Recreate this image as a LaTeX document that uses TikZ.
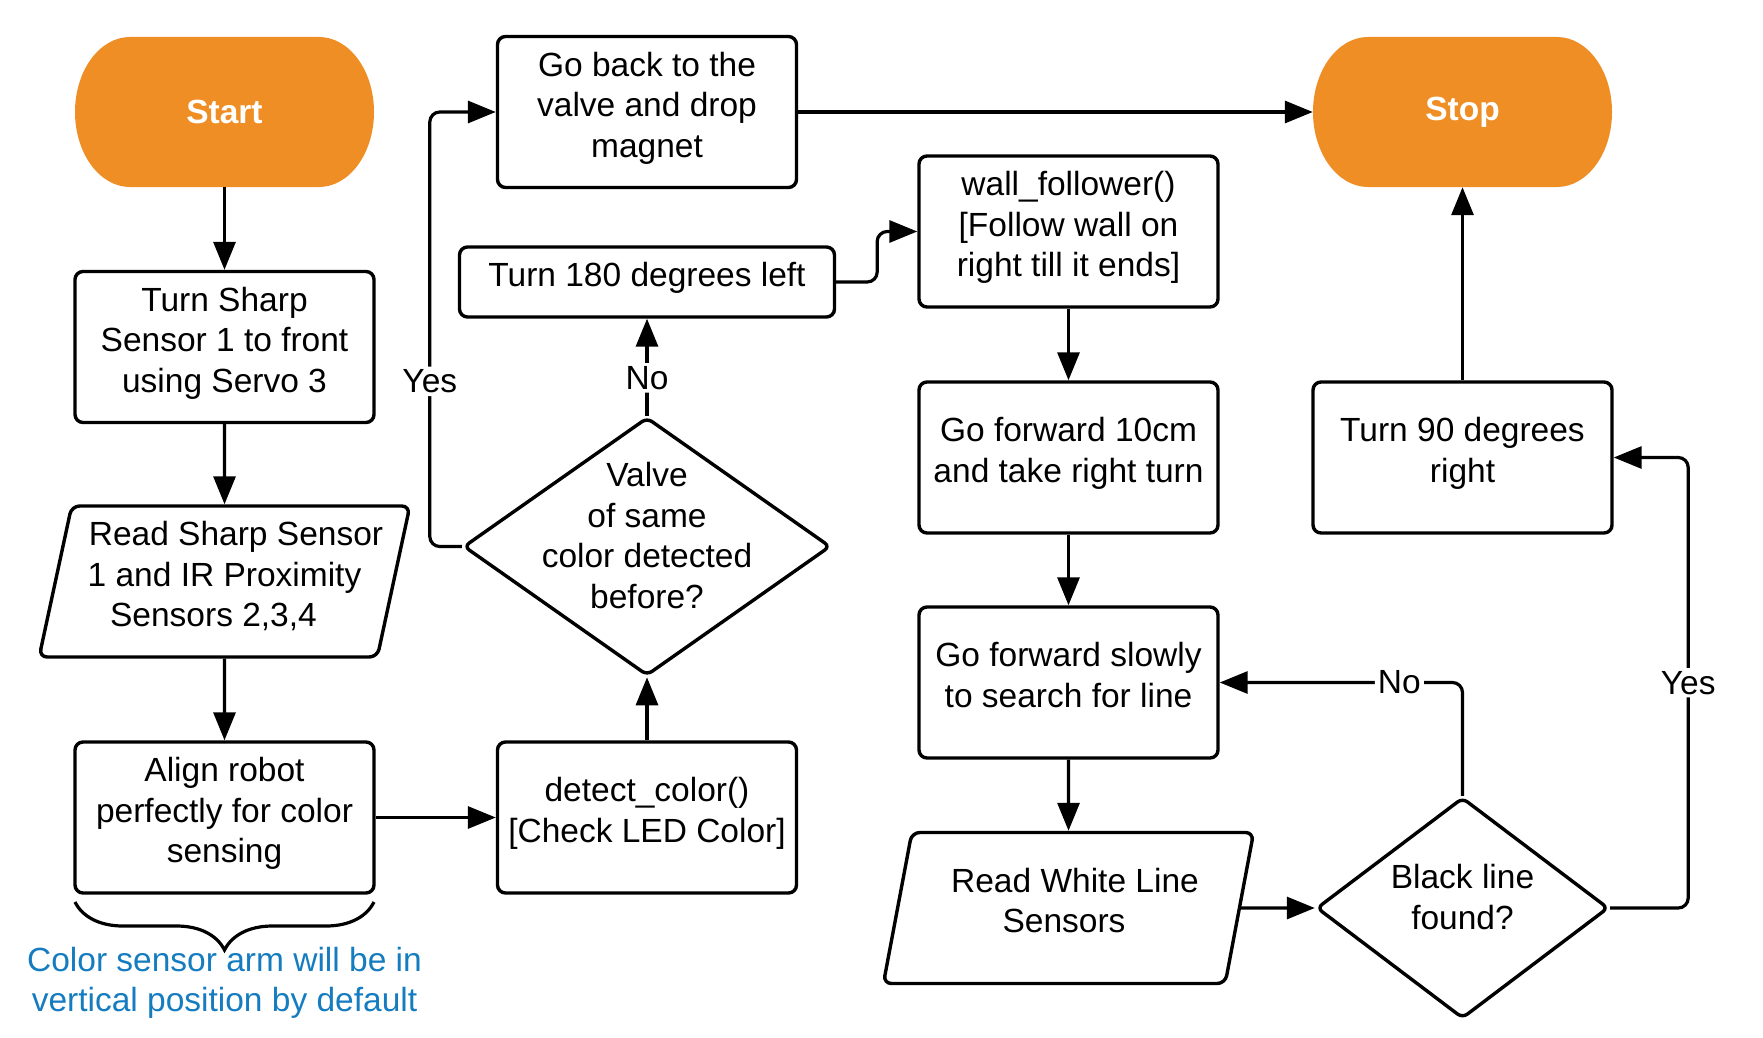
\documentclass[tikz,border=0pt]{standalone}
\usepackage{fontspec}
\setmainfont{Liberation Sans}
\usetikzlibrary{arrows.meta,shapes.geometric,decorations.pathreplacing}
\definecolor{termfill}{RGB}{239,142,36}
\definecolor{noteblue}{RGB}{22,124,192}
\tikzset{
  box/.style={draw,rounded corners=8pt,line width=3.4pt,minimum width=299pt,minimum height=151pt,
    align=center,inner sep=4pt,text depth=15pt},
  io/.style={draw,trapezium,trapezium left angle=76.6,trapezium right angle=103.4,trapezium stretches=true,
    rounded corners=8pt,line width=3.4pt,minimum width=371pt,minimum height=151pt,align=center,
    inner xsep=-15pt,inner ysep=4pt,text depth=15pt},
  decision/.style={draw,diamond,rounded corners=6pt,line width=3.4pt,align=center,inner sep=-30pt,text depth=22pt},
  terminal/.style={fill=white,minimum width=299pt,minimum height=150pt,text=white,
    font=\fontsize{33.5}{40.5}\selectfont\bfseries,
    path picture={\fill[termfill] ([xshift=55pt]path picture bounding box.north west)
      -- ([xshift=-55pt]path picture bounding box.north east)
      arc[start angle=90,end angle=-90,x radius=55pt,y radius=75pt]
      -- ([xshift=55pt]path picture bounding box.south west)
      arc[start angle=270,end angle=90,x radius=55pt,y radius=75pt] -- cycle;}},
  flow/.style={->,line width=3.2pt,rounded corners=10pt},
  tag/.style={fill=white,inner sep=3pt}
}
\begin{document}
\begin{tikzpicture}[x=1pt,y=-1pt,>={Triangle[length=28pt,width=22pt]},font=\fontsize{33.5}{40.5}\selectfont]
  \useasboundingbox (0,0) rectangle (1763,1038);

  % 左列
  \node[terminal] (start) at (224.5,112) {Start};
  \node[box] (servo) at (224.5,347) {Turn Sharp\\Sensor 1 to front\\using Servo 3};
  \node[io] (readir) at (224.5,581.5) {\hspace*{23pt}Read Sharp Sensor\\1 and IR Proximity\\Sensors 2,3,4\hspace*{22pt}};
  \node[box] (align) at (224.5,817.5) {Align robot\\perfectly for color\\sensing};
  \node[text=noteblue,align=center] (note) at (224.5,983) {Color sensor arm will be in\\vertical position by default};

  % 中列
  \node[box] (back) at (647,112) {Go back to the\\valve and drop\\magnet};
  \node[box,minimum width=375pt,minimum height=70pt] (turnl) at (647,282) {Turn 180 degrees left};
  \node[decision,minimum width=367pt,minimum height=258pt] (valve) at (647,546.5) {Valve\\of same\\color detected\\before?};
  \node[box] (detect) at (647,817.5) {detect\_color()\\{}[Check LED Color]};

  % 右列
  \node[terminal] (stop) at (1462.5,112) {Stop};
  \node[box] (wall) at (1068.5,231.5) {wall\_follower()\\{}[Follow wall on\\right till it ends]};
  \node[box] (fwd) at (1068.5,457.5) {Go forward 10cm\\and take right turn};
  \node[box] (slow) at (1068.5,682.5) {Go forward slowly\\to search for line};
  \node[io] (readwl) at (1068.5,908) {\hspace*{13pt}Read White Line\\Sensors\hspace*{9pt}};
  \node[decision,minimum width=292pt,minimum height=221pt] (black) at (1462.5,908) {Black line\\found?};
  \node[box] (turnr) at (1462.5,457.5) {Turn 90 degrees\\right};

  % 连线
  \draw[flow] (start) -- (servo);
  \draw[flow] (servo) -- (readir);
  \draw[flow] (readir) -- (align);
  \draw[flow] (align) -- (detect);
  \draw[flow] (detect) -- (valve);
  \draw[flow] (valve.north) -- node[tag,pos=0.39] (no1) {No} (turnl.south);
  \draw[flow] (valve.west) -- ++(-32,0) |- node[tag,pos=0.19] (yes1) {Yes} (back.west);
  \draw[flow] (back) -- (stop);
  \draw[flow] (turnl.east) -- ++(41,0) |- (wall.west);
  \draw[flow] (wall) -- (fwd);
  \draw[flow] (fwd) -- (slow);
  \draw[flow] (slow) -- (readwl);
  \draw[flow] (readwl.east) -- (black.west);
  \draw[flow] (black.north) |- node[tag,pos=0.63] (no2) {No} (slow.east);
  \draw[flow] (black.east) -- ++(78,0) |- node[tag,pos=0.25] (yes2) {Yes} (turnr.east);
  \draw[flow] (turnr) -- (stop);

  % 花括号
  \draw[line width=3.2pt,decorate,decoration={brace,mirror,amplitude=48pt}] (75,902) -- (374,902);
\end{tikzpicture}
\end{document}
